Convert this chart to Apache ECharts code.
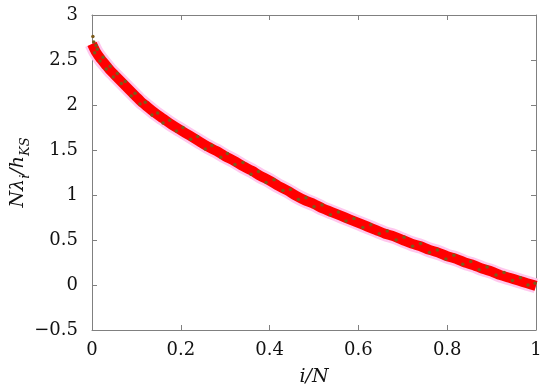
<!DOCTYPE html>
<html>
<head>
<meta charset="utf-8">
<script src="https://cdn.jsdelivr.net/npm/echarts@6/dist/echarts.min.js"></script>
<style>
html, body { margin: 0; padding: 0; background: #fff; }
#main { width: 550px; height: 392px; }
</style>
</head>
<body>
<div id="main"></div>
<script>
// curve (centre of the red band)
var curveX = [0, 0.01, 0.02, 0.03, 0.04, 0.05, 0.06, 0.07, 0.08, 0.09, 0.10, 0.11, 0.12,
    0.14, 0.16, 0.18, 0.20, 0.22, 0.24, 0.26, 0.28, 0.30, 0.32, 0.34, 0.36, 0.38, 0.40,
    0.42, 0.44, 0.46, 0.48, 0.50, 0.52, 0.54, 0.56, 0.58, 0.60, 0.62, 0.64, 0.66, 0.68,
    0.70, 0.72, 0.74, 0.76, 0.78, 0.80, 0.82, 0.84, 0.86, 0.88, 0.90, 0.92, 0.94, 0.96,
    0.98, 1.00];
var curveY = [2.68, 2.58, 2.51, 2.45, 2.39, 2.34, 2.29, 2.24, 2.19, 2.14, 2.09, 2.04, 2.00,
    1.92, 1.85, 1.78, 1.72, 1.66, 1.60, 1.54, 1.49, 1.43, 1.38, 1.32, 1.27, 1.21, 1.16,
    1.10, 1.05, 0.99, 0.94, 0.90, 0.85, 0.81, 0.77, 0.73, 0.69, 0.65, 0.61, 0.57, 0.54,
    0.50, 0.46, 0.43, 0.39, 0.36, 0.32, 0.29, 0.25, 0.22, 0.18, 0.15, 0.11, 0.08, 0.05,
    0.02, -0.01];

// dark points sprinkled along the band edges
var oliveX = [0.002, 0.004, 0.006, 0.009, 0.012, 0.018, 0.025, 0.032, 0.041, 0.048, 0.057,
    0.066, 0.075, 0.088, 0.097, 0.108, 0.12, 0.135, 0.148, 0.16, 0.175, 0.19, 0.205, 0.222,
    0.238, 0.255, 0.27, 0.29, 0.305, 0.322, 0.34, 0.358, 0.375, 0.392, 0.41, 0.43, 0.447,
    0.465, 0.482, 0.50, 0.518, 0.537, 0.555, 0.572, 0.59, 0.61, 0.628, 0.647, 0.665, 0.685,
    0.703, 0.722, 0.74, 0.76, 0.778, 0.797, 0.815, 0.835, 0.853, 0.872, 0.89, 0.91, 0.928,
    0.947, 0.965, 0.982, 0.998];
var oliveY = [2.76, 2.70, 2.58, 2.66, 2.62, 2.49, 2.53, 2.40, 2.43, 2.31, 2.35,
    2.24, 2.26, 2.10, 2.13, 2.01, 2.03, 1.89, 1.91, 1.80, 1.83, 1.71, 1.75, 1.62,
    1.65, 1.51, 1.55, 1.42, 1.46, 1.34, 1.36, 1.23, 1.26, 1.14, 1.17, 1.05, 1.06,
    0.95, 0.97, 0.87, 0.89, 0.78, 0.81, 0.71, 0.74, 0.64, 0.67, 0.57, 0.60, 0.50,
    0.53, 0.43, 0.46, 0.36, 0.39, 0.29, 0.33, 0.23, 0.26, 0.17, 0.20, 0.11, 0.14,
    0.05, 0.08, 0.00, 0.02];

var xMin = 0, xMax = 1, xStep = 0.2;
var yMin = -0.5, yMax = 3, yStep = 0.5;

var zip = function (xs, ys) {
    return xs.map(function (x, i) { return [x, ys[i]]; });
};

var serif = 'DejaVu Serif';
var axisGray = '#808080';

var fmt = function (v) {
    return String(+v.toFixed(2)).replace('-', '\u2212');
};

var frameAxis = function (pos) {
    return {
        position: pos,
        axisLine: { show: true, onZero: false, lineStyle: { color: axisGray, width: 1 } },
        axisTick: { inside: true, length: 5, lineStyle: { color: axisGray } },
        axisLabel: { show: false },
        splitLine: { show: false }
    };
};

var myChart = echarts.init(document.getElementById('main'));
myChart.setOption({
    animation: false,
    grid: { left: 92, right: 14, top: 15, bottom: 62, containLabel: false, outerBoundsMode: 'none' },
    xAxis: [
        {
            type: 'value', min: xMin, max: xMax, interval: xStep,
            position: 'bottom',
            name: 'i/N',
            nameLocation: 'middle',
            nameGap: 38,
            nameTextStyle: { fontFamily: serif, fontSize: 19, fontStyle: 'italic', color: '#111' },
            axisLine: { show: true, onZero: false, lineStyle: { color: axisGray, width: 1 } },
            axisTick: { inside: true, length: 5, lineStyle: { color: axisGray } },
            axisLabel: {
                margin: 11, formatter: fmt,
                fontFamily: serif, fontSize: 18, color: '#111'
            },
            splitLine: { show: false }
        },
        Object.assign({ type: 'value', min: xMin, max: xMax, interval: xStep }, frameAxis('top'))
    ],
    yAxis: [
        {
            type: 'value', min: yMin, max: yMax, interval: yStep,
            position: 'left',
            name: '{a|N\u03bb}{s|i}{a|/h}{s|KS}',
            nameLocation: 'middle',
            nameGap: 60,
            nameMoveOverlap: false,
            nameRotate: 90,
            nameTextStyle: {
                rich: {
                    a: { fontFamily: serif, fontSize: 19, fontStyle: 'italic', color: '#111', lineHeight: 28 },
                    s: { fontFamily: serif, fontSize: 13, fontStyle: 'italic', color: '#111', lineHeight: 14, verticalAlign: 'bottom' }
                }
            },
            axisLine: { show: true, onZero: false, lineStyle: { color: axisGray, width: 1 } },
            axisTick: { inside: true, length: 5, lineStyle: { color: axisGray } },
            axisLabel: {
                margin: 14, formatter: fmt,
                fontFamily: serif, fontSize: 18, color: '#111'
            },
            splitLine: { show: false }
        },
        Object.assign({ type: 'value', min: yMin, max: yMax, interval: yStep }, frameAxis('right'))
    ],
    series: [
        {
            name: 'halo',
            type: 'line',
            data: zip(curveX, curveY),
            symbol: 'none',
            smooth: 0.3,
            lineStyle: { width: 15, color: '#ffc8ee' },
            z: 1
        },
        {
            name: 'band',
            type: 'line',
            data: zip(curveX, curveY),
            symbol: 'none',
            smooth: 0.3,
            lineStyle: { width: 10, color: '#ff0000' },
            z: 2
        },
        {
            name: 'olive',
            type: 'scatter',
            data: zip(oliveX, oliveY),
            symbolSize: 3.5,
            itemStyle: { color: '#7b5b1b', opacity: 1 },
            z: 10
        }
    ]
});
</script>
</body>
</html>
